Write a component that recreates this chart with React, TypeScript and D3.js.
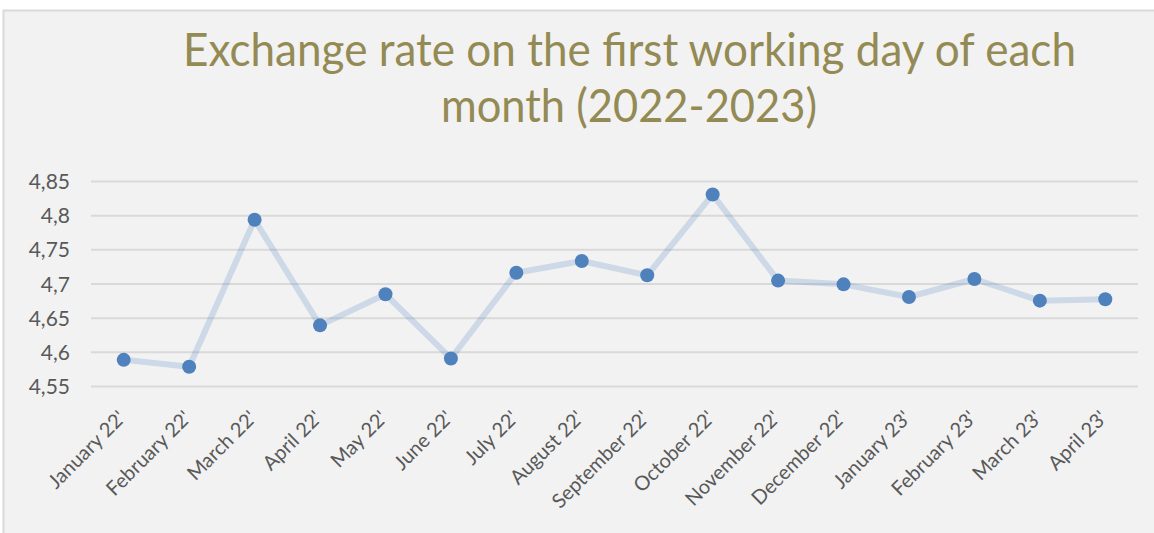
import React from "react";
import * as d3 from "d3";

const categories = [
  "January 22'", "February 22'", "March 22'", "April 22'", "May 22'", "June 22'",
  "July 22'", "August 22'", "September 22'", "October 22'", "November 22'", "December 22'",
  "January 23'", "February 23'", "March 23'", "April 23'",
];
const rates = [
  4.589, 4.579, 4.794, 4.6395, 4.685, 4.591, 4.7165, 4.7336, 4.7127, 4.831,
  4.705, 4.6995, 4.681, 4.7073, 4.6756, 4.6776,
];
const yTicks = [4.55, 4.6, 4.65, 4.7, 4.75, 4.8, 4.85];
const titleLines = ["Exchange rate on the first working day of each", "month (2022-2023)"];

const W = 1154;
const H = 533;
const left = 91;
const right = 1138;
const top = 181.5;
const bottom = 386.5;

export default function App() {
  const x = d3.scalePoint<string>().domain(categories).range([left, right]).padding(0.5);
  const y = d3.scaleLinear().domain([4.55, 4.85]).range([bottom, top]);
  const line = d3
    .line<number>()
    .x((_, i) => x(categories[i]) as number)
    .y((d) => y(d));
  const fmt = (v: number) => String(+v.toFixed(2)).replace(".", ",");
  const font = "Lato, 'Open Sans', sans-serif";

  return (
    <svg
      width={W}
      height={H}
      style={{ position: "absolute", left: 0, top: 0, display: "block" }}
      fontFamily={font}
    >
      <rect x={0} y={0} width={W} height={H} fill="#ffffff" />
      <rect x={3.5} y={10.5} width={W} height={H} fill="#f2f2f2" stroke="#d9d9d9" strokeWidth={2} />
      <text
        x={183}
        y={66}
        fontSize={46}
        fill="#948a54"
        textLength={893}
        lengthAdjust="spacingAndGlyphs"
      >
        {titleLines[0]}
      </text>
      <text
        x={441}
        y={122}
        fontSize={46}
        fill="#948a54"
        textLength={376}
        lengthAdjust="spacingAndGlyphs"
      >
        {titleLines[1]}
      </text>
      {yTicks.map((t) => (
        <g key={t}>
          <line x1={left} x2={right} y1={y(t)} y2={y(t)} stroke="#d9d9d9" strokeWidth={2} />
          <text
            x={70}
            y={y(t)}
            dy="0.36em"
            textAnchor="end"
            fontSize={21}
            fill="#595959"
          >
            {fmt(t)}
          </text>
        </g>
      ))}
      {categories.map((c) => {
        const cx = x(c) as number;
        return (
          <text
            key={c}
            transform={`translate(${cx - 7},${409}) rotate(-45)`}
            textAnchor="end"
            dy="0.72em"
            fontSize={20}
            fill="#595959"
          >
            {c}
          </text>
        );
      })}
      <path
        d={line(rates) ?? ""}
        fill="none"
        stroke="#4f81bd"
        strokeOpacity={0.22}
        strokeWidth={6}
        strokeLinejoin="round"
        strokeLinecap="round"
      />
      {rates.map((v, i) => (
        <circle key={i} cx={x(categories[i]) as number} cy={y(v)} r={7} fill="#4f81bd" />
      ))}
    </svg>
  );
}
